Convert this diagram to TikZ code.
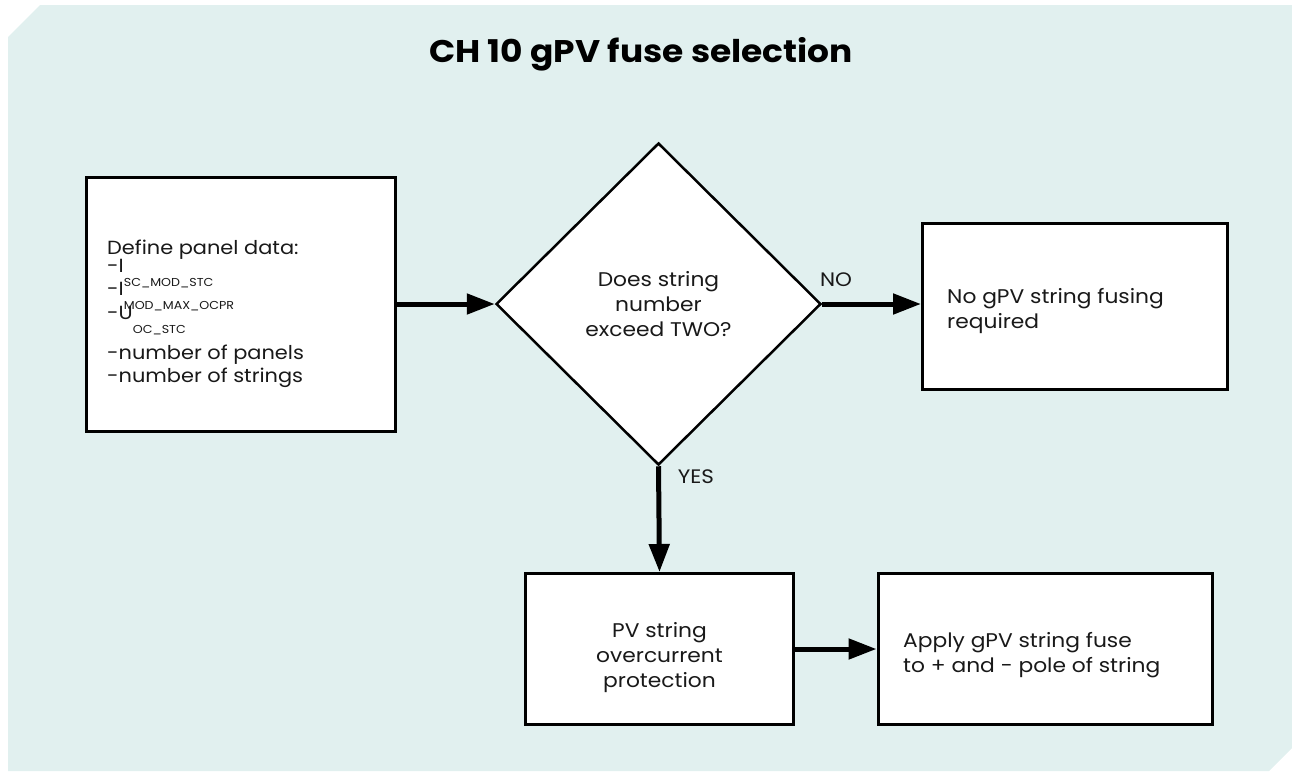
\documentclass[tikz,border=0pt]{standalone}
\usepackage{fontspec}
\setmainfont{Poppins}[FakeStretch=1.1]
\usetikzlibrary{shapes.geometric,arrows.meta}
\definecolor{bg}{RGB}{225,240,239}
\definecolor{ink}{RGB}{25,25,25}
\newcommand\lowsub[1]{\raisebox{-14pt}{\fontsize{11.5}{11.5}\selectfont #1}}
\begin{document}
\begin{tikzpicture}[x=1pt,y=-1pt,
  box/.style={draw=black,line width=3pt,fill=white,inner sep=0pt},
  dec/.style={diamond,draw=black,line width=2.5pt,fill=white,inner sep=0pt,
    minimum width=325pt,minimum height=322pt},
  conn/.style={line width=5pt,-{Triangle[length=28pt,width=20pt]}},
  txt/.style={font=\fontsize{19.8}{25}\selectfont,text=ink,inner sep=0pt},
  lbl/.style={font=\fontsize{19.5}{20}\selectfont,text=ink,inner sep=0pt}]
\useasboundingbox (0,0) rectangle (1292,771);
\fill[bg] (8,37) -- (40,5) -- (1292,5) -- (1292,748) -- (1269,771) -- (8,771) -- cycle;
\node[font=\fontsize{31.3}{36}\selectfont\bfseries,text=black] (title) at (641,54) {CH 10 gPV fuse selection};
% boxes
\node[box,minimum width=309pt,minimum height=254pt] (def) at (240.5,304) {};
\node[dec,txt,align=center] (dec) at (658.5,304) {Does string\\number\\exceed TWO?};
\node[box,minimum width=305pt,minimum height=166pt] (nofuse) at (1075,306) {};
\node[box,minimum width=268pt,minimum height=151pt] (pv) at (659.5,649) {};
\node[box,minimum width=334pt,minimum height=151pt] (apply) at (1045,649) {};
% texts
\node[anchor=west,align=left,font={\fontsize{19}{24}\selectfont\lineskiplimit=-100pt},text=ink,inner sep=0pt] (deftext) at (107,313.5)
  {Define panel data:\\[-6pt]
   -I\lowsub{SC\_MOD\_STC}\\[-1pt]
   -I\lowsub{MOD\_MAX\_OCPR}\\
   -U\lowsub{OC\_STC}\\[16pt]
   -number of panels\\[-1pt]
   -number of strings};
\node[txt,anchor=west,align=left] (notext) at (947,311) {No gPV string fusing\\required};
\node[txt,align=center] (pvtext) at ([yshift=-9pt]pv.center) {PV string\\overcurrent\\protection};
\node[txt,anchor=west,align=left] (applytext) at (903,655) {Apply gPV string fuse\\to + and - pole of string};
% connectors
\draw[conn] (def.east) -- (dec.west);
\draw[conn] (dec.east) -- (dec.east -| nofuse.west);
\draw[conn] (dec.south) -- (pv.north);
\draw[conn] (pv.east) -- (apply.west);
\node[lbl] (nolbl) at (836,280) {NO};
\node[lbl] (yeslbl) at (696,477) {YES};
\end{tikzpicture}
\end{document}
